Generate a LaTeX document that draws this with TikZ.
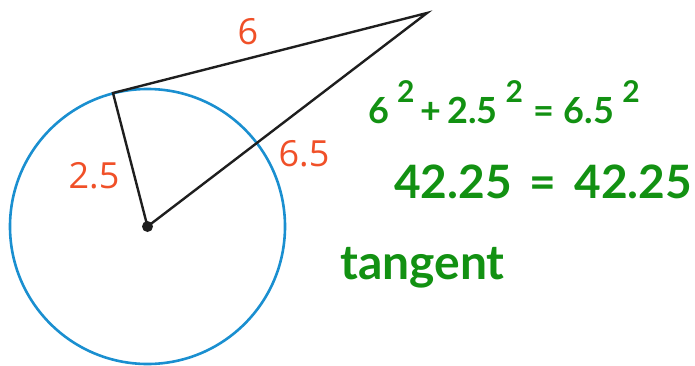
\documentclass[tikz,border=0pt]{standalone}
\usepackage{fontspec}
\setmainfont{Open Sans}
\newfontfamily\handfont{Lato}
\definecolor{circblue}{RGB}{26,143,208}
\definecolor{lblorange}{RGB}{240,80,40}
\definecolor{handgreen}{RGB}{18,145,18}
\definecolor{segblack}{RGB}{30,30,30}
\newcommand{\hsq}{\hspace*{8pt}\raisebox{0.6em}{\fontsize{30}{30}\selectfont 2}}
\tikzset{
  seg/.style={draw=segblack, line width=2.4pt},
  lbl/.style={text=lblorange, font=\fontsize{36}{40}\selectfont, inner sep=0pt},
  hand/.style={text=handgreen, inner sep=0pt, anchor=west},
}
\begin{document}
\begin{tikzpicture}[x=1pt,y=-1pt]
\useasboundingbox (0,0) rectangle (695,365);
\coordinate (O) at (147.5,226.5);
\coordinate (T) at (113,93);
\coordinate (P) at (427,13);
\draw[circblue, line width=2.6pt] (O) circle[radius=137.5pt];
\draw[seg] (O) -- (T) -- (P) -- (O);
\fill[segblack] (O) circle[radius=5.5pt];
\node[lbl] (l6) at (248,32) {6};
\node[lbl] (l25) at (94,176) {2.5};
\node[lbl] (l65) at (304,154) {6.5};
\node[hand, font=\handfont\bfseries\fontsize{36}{40}\selectfont] (e1) at (368,102) {6\hsq\hspace*{6pt}+\hspace*{6pt}2.5\hsq\hspace*{10pt}=\hspace*{10pt}6.5\hsq};
\node[hand, font=\handfont\bfseries\fontsize{46}{50}\selectfont] (e2) at (394,182) {42.25\hspace*{18pt}=\hspace*{18pt}42.25};
\node[hand, font=\handfont\bfseries\fontsize{48}{50}\selectfont] (e3) at (340,268) {tangent};
\end{tikzpicture}
\end{document}
